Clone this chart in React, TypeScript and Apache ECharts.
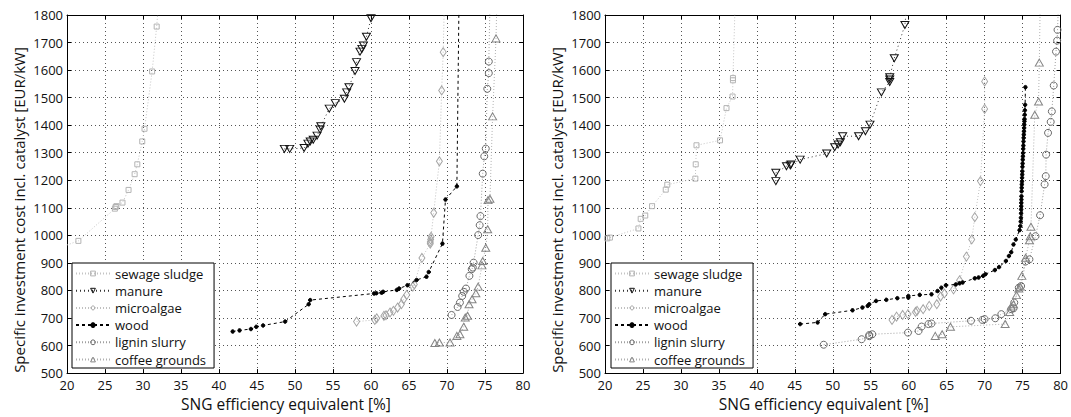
import React, { useEffect, useRef } from "react";
import * as echarts from "echarts";

// ---- data (x: SNG efficiency equivalent [%], y: specific investment cost [EUR/kW]) ----
const seriesNames = ["sewage sludge", "manure", "microalgae", "wood", "lignin slurry", "coffee grounds"];
const xTicks = { min: 20, max: 80, interval: 5 };
const yTicks = { min: 500, max: 1800, interval: 100 };

// left panel
const sewageL = [[18.5,950],[21.5,980],[26.3,1097],[26.4,1103],[26.5,1106],[27.3,1119],[28.1,1165],[28.9,1222],[29.25,1258],[29.9,1341],[30.2,1387],[31.2,1595],[31.8,1758],[32.2,1900]];
const manureL = [[48.6,1314],[49.3,1314],[51.2,1317],[51.7,1333],[52.0,1341],[52.4,1347],[52.9,1362],[53.3,1384],[53.4,1396],[54.5,1460],[55.3,1480],[56.5,1496],[56.8,1519],[57.1,1538],[57.9,1597],[58.1,1629],[58.55,1667],[58.8,1677],[59.0,1689],[59.4,1721],[60.0,1788],[60.2,1850]];
const algaeL = [[58.1,687],[60.5,693],[60.75,699],[61.7,708],[61.97,710],[62.5,720],[62.95,726],[63.5,738],[64.0,750],[64.3,768],[64.7,784],[65.5,814],[65.7,822],[66.7,918],[67.8,970],[67.8,976],[67.85,985],[67.9,995],[68.25,1082],[69.0,1269],[69.3,1526],[69.5,1665],[69.7,1900]];
const woodL = [[41.8,651],[42.7,655],[44.2,660],[44.9,668],[45.8,673],[48.7,687],[51.8,750],[52.0,765],[60.4,789],[60.7,790],[61.4,792],[61.6,795],[63.4,802],[63.7,807],[64.8,819],[66.0,838],[67.3,850],[67.6,867],[69.4,970],[69.8,1130],[71.3,1178],[71.6,1900]];
const ligninL = [[70.6,711],[71.4,740],[71.7,756],[72.0,780],[72.2,795],[72.5,807],[72.95,853],[73.25,877],[73.4,883],[73.5,901],[74.1,1001],[74.3,1037],[74.4,1070],[74.7,1224],[74.9,1287],[75.1,1315],[75.3,1532],[75.5,1589],[75.5,1631],[75.7,1900]];
const coffeeL = [[68.4,609],[69.0,611],[70.4,611],[71.3,635],[71.7,641],[72.2,668],[72.4,702],[72.7,708],[72.9,750],[73.3,768],[73.8,790],[74.1,814],[74.6,891],[74.7,907],[75.1,955],[75.35,1022],[75.4,1128],[75.65,1133],[76.0,1432],[76.45,1715],[76.6,1900]];

// right panel
const sewageR = [[19.5,985],[20.3,989],[20.65,992],[24.4,1025],[24.7,1060],[25.3,1072],[26.2,1106],[28.0,1166],[28.2,1184],[31.9,1206],[31.95,1258],[32.05,1327],[35.15,1345],[36.0,1462],[36.8,1504],[36.85,1563],[36.85,1571],[37.2,1900]];
const manureR = [[42.5,1197],[42.5,1227],[43.9,1251],[44.4,1254],[44.5,1257],[45.7,1275],[49.2,1297],[50.25,1320],[50.7,1330],[51.0,1338],[51.3,1360],[53.4,1360],[54.3,1378],[54.9,1402],[56.4,1519],[57.5,1557],[57.5,1566],[57.5,1574],[58.1,1643],[59.5,1764],[59.8,1850]];
const algaeR = [[57.8,693],[58.4,705],[59.2,711],[59.9,714],[60.9,722],[61.1,726],[61.9,732],[62.7,744],[63.7,750],[64.2,778],[64.7,789],[65.9,804],[66.7,837],[67.6,923],[68.3,985],[68.7,1066],[69.45,1197],[70.0,1459],[70.0,1559]];
const woodR = [[45.7,678],[48.0,684],[49.0,714],[52.6,728],[53.9,738],[54.6,744],[54.8,750],[55.7,762],[57.05,766],[58.5,772],[59.95,774],[59.95,780],[61.45,784],[63.0,786],[63.8,798],[64.3,810],[64.9,819],[66.2,822],[66.7,826],[67.1,829],[68.7,844],[69.2,847],[69.8,853],[70.1,859],[71.35,874],[71.9,885],[72.8,907],[73.2,925],[73.5,939],[73.8,967],[74.1,985],[74.6,1019],[74.7,1034],[74.75,1050],[74.78,1064],[74.8,1080],[74.81,1094],[74.82,1106],[74.83,1118],[74.84,1130],[74.85,1142],[74.87,1160],[74.88,1173],[74.9,1185],[74.92,1196],[74.93,1209],[74.95,1221],[74.96,1233],[74.98,1249],[75.0,1261],[75.02,1275],[75.04,1287],[75.06,1299],[75.08,1314],[75.1,1326],[75.12,1341],[75.14,1354],[75.16,1366],[75.18,1378],[75.2,1390],[75.22,1402],[75.24,1414],[75.25,1422],[75.28,1438],[75.3,1454],[75.33,1474],[75.37,1538]];
const ligninR = [[48.8,603],[53.8,623],[54.8,634],[54.8,638],[55.2,641],[59.9,647],[61.3,653],[61.7,669],[62.6,678],[63.0,680],[68.2,690],[69.7,693],[70.0,696],[71.4,699],[72.2,714],[73.5,732],[73.8,735],[73.9,756],[74.5,810],[74.8,816],[75.4,905],[75.9,913],[76.7,997],[77.3,1073],[77.9,1185],[78.05,1215],[78.1,1293],[78.35,1372],[78.7,1412],[78.85,1450],[79.1,1544],[79.4,1667],[79.55,1707],[79.6,1746],[79.8,1900]];
const coffeeR = [[63.5,635],[64.4,641],[65.5,668],[72.7,678],[73.3,722],[73.5,742],[73.8,750],[74.2,783],[74.5,807],[74.7,814],[74.9,853],[75.4,919],[75.9,982],[76.0,997],[76.1,1031],[76.6,1438],[77.1,1486],[77.2,1627],[77.35,1900]];

const xName = "SNG efficiency equivalent [%]";
const yName = "Specific investment cost incl. catalyst [EUR/kW]";

const FONT = "'Open Sans', 'Noto Sans', sans-serif";

type Sty = {
  symbol: string;
  size: number | number[];
  rotate?: number;
  fill: string;
  stroke: string;
  line: string;
  lineType: any;
};

const CLEAR = "rgba(255,255,255,0)";

const styles: Sty[] = [
  { symbol: "rect", size: 5, fill: CLEAR, stroke: "#b4b4b4", line: "#c4c4c4", lineType: [1, 2] },
  { symbol: "triangle", size: [8, 7], rotate: 180, fill: CLEAR, stroke: "#111", line: "#333", lineType: [1, 3] },
  { symbol: "diamond", size: [6, 9], fill: CLEAR, stroke: "#a4a4a4", line: "#c0c0c0", lineType: [1, 2] },
  { symbol: "circle", size: 3.5, fill: "#000", stroke: "#000", line: "#000", lineType: [3, 3] },
  { symbol: "circle", size: 7, fill: CLEAR, stroke: "#6a6a6a", line: "#a0a0a0", lineType: [1, 2] },
  { symbol: "triangle", size: [8, 7], fill: CLEAR, stroke: "#858585", line: "#b0b0b0", lineType: [1, 2] },
];

function mk(i: number, data: number[][], g: number) {
  const s = styles[i];
  return {
    name: seriesNames[i],
    type: "line",
    xAxisIndex: g * 2,
    yAxisIndex: g * 2,
    data,
    clip: true,
    symbol: s.symbol,
    symbolSize: s.size,
    symbolRotate: s.rotate || 0,
    showAllSymbol: true,
    itemStyle: { color: s.fill, borderColor: s.stroke, borderWidth: 1 },
    lineStyle: { color: s.line, width: 1, type: s.lineType },
    emphasis: { disabled: true },
    z: 3 + i,
  };
}

const plain = (v: number) => String(v);

function xAxes(g: number) {
  return [
    {
      type: "value",
      gridIndex: g,
      position: "bottom",
      ...xTicks,
      name: xName,
      nameLocation: "middle",
      nameGap: 22,
      nameTextStyle: { fontFamily: FONT, fontSize: 15.5, color: "#111", padding: [0, 18, 0, 0] },
      axisLine: { show: true, onZero: false, lineStyle: { color: "#000", width: 1 } },
      axisTick: { show: true, inside: true, length: 4, lineStyle: { color: "#000" } },
      axisLabel: { fontFamily: FONT, fontSize: 13, color: "#111", margin: 5, formatter: plain },
      splitLine: { show: true, lineStyle: { color: "#555", type: [1, 3], width: 1 } },
    },
    {
      type: "value",
      gridIndex: g,
      position: "top",
      ...xTicks,
      axisLine: { show: true, onZero: false, lineStyle: { color: "#000", width: 1 } },
      axisTick: { show: true, inside: true, length: 4, lineStyle: { color: "#000" } },
      axisLabel: { show: false },
      splitLine: { show: false },
    },
  ];
}

function yAxes(g: number) {
  return [
    {
      type: "value",
      gridIndex: g,
      position: "left",
      ...yTicks,
      axisLine: { show: true, onZero: false, lineStyle: { color: "#000", width: 1 } },
      axisTick: { show: true, inside: true, length: 4, lineStyle: { color: "#000" } },
      axisLabel: { fontFamily: FONT, fontSize: 13, color: "#111", margin: 4, formatter: plain },
      splitLine: { show: true, lineStyle: { color: "#555", type: [1, 3], width: 1 } },
    },
    {
      type: "value",
      gridIndex: g,
      position: "right",
      ...yTicks,
      axisLine: { show: true, onZero: false, lineStyle: { color: "#000", width: 1 } },
      axisTick: { show: true, inside: true, length: 4, lineStyle: { color: "#000" } },
      axisLabel: { show: false },
      splitLine: { show: false },
    },
  ];
}

function legend(left: number) {
  return {
    orient: "vertical",
    left,
    top: 263,
    padding: [3, 8, 1, 3],
    itemGap: 2.2,
    itemWidth: 34,
    itemHeight: 6,
    borderColor: "#000",
    borderWidth: 1,
    borderRadius: 0,
    backgroundColor: "#fff",
    data: seriesNames.map((n, i) => ({
      name: n,
      itemStyle: {
        color: styles[i].fill,
        borderColor: styles[i].stroke,
        borderWidth: 1,
      },
    })),
    selectedMode: false,
    textStyle: { fontFamily: FONT, fontSize: 13, lineHeight: 15, color: "#111" },
    z: 20,
  };
}

function yTitle(x: number) {
  return {
    type: "text",
    x,
    y: 210,
    rotation: Math.PI / 2,
    style: {
      text: yName,
      fontFamily: FONT,
      fontSize: 15,
      fill: "#111",
      align: "center",
      verticalAlign: "middle",
    },
  };
}

export default function App() {
  const ref = useRef<HTMLDivElement>(null);
  useEffect(() => {
    if (!ref.current) return;
    const chart = echarts.init(ref.current, undefined, { renderer: "svg" });
    const left = [sewageL, manureL, algaeL, woodL, ligninL, coffeeL];
    const right = [sewageR, manureR, algaeR, woodR, ligninR, coffeeR];
    chart.setOption({
      animation: false,
      backgroundColor: "#fff",
      grid: [
        { left: 67, top: 15, width: 456, height: 359 },
        { left: 605, top: 15, width: 457, height: 359 },
      ],
      xAxis: [...xAxes(0), ...xAxes(1)],
      yAxis: [...yAxes(0), ...yAxes(1)],
      legend: [legend(72), legend(611)],
      graphic: [yTitle(19), yTitle(557)],
      series: [...left.map((d, i) => mk(i, d, 0)), ...right.map((d, i) => mk(i, d, 1))],
    });
    return () => chart.dispose();
  }, []);
  return (
    <div
      ref={ref}
      style={{ position: "absolute", left: 0, top: 0, width: 1071, height: 417 }}
    />
  );
}
